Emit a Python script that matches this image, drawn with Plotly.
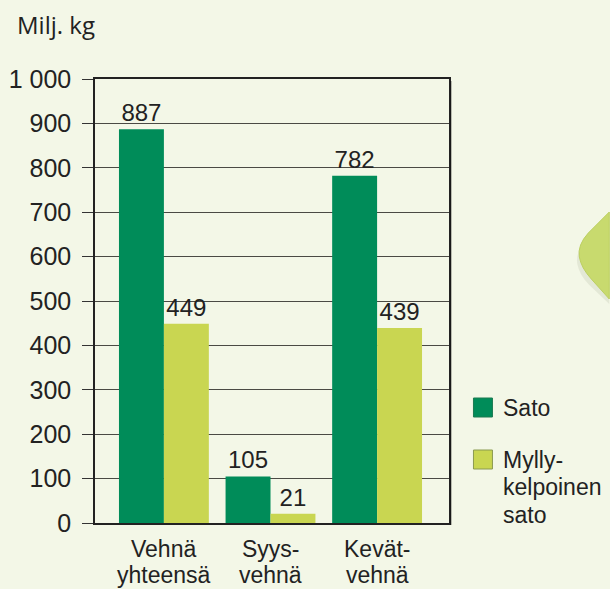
import plotly.graph_objects as go

# ---- data ----
categories = ["Vehnä\nyhteensä", "Syys-\nvehnä", "Kevät-\nvehnä"]
series_names = ["Sato", "Mylly-\nkelpoinen\nsato"]
sato = [887, 105, 782]
myllykelpoinen = [449, 21, 439]
y_tick_vals = [0, 100, 200, 300, 400, 500, 600, 700, 800, 900, 1000]
y_tick_text = ["0", "100", "200", "300", "400", "500", "600", "700", "800", "900", "1 000"]
y_title = "Milj. kg"

# ---- style ----
W, H = 610, 589
L, R, T, B = 95, 449.5, 79, 523
BG = "#f3f7e7"
DARK = "#008c59"
LIGHT = "#c9d651"
NUMFONT = "Liberation Sans, Arial, sans-serif"
SANS = "Liberation Sans, Arial, sans-serif"
TXT = "#222222"

def px(xp):
    return (xp - L) / (R - L)

def py(yp):
    return (B - yp) / (B - T)

x_idx = list(range(len(categories)))

fig = go.Figure()
fig.add_trace(go.Bar(x=x_idx, y=sato, name=series_names[0], marker=dict(color=DARK, line=dict(width=0)),
                     text=[str(v) for v in sato], textposition="outside", cliponaxis=False,
                     textfont=dict(family=NUMFONT, size=24, color=TXT), showlegend=False))
fig.add_trace(go.Bar(x=x_idx, y=myllykelpoinen, name=series_names[1], marker=dict(color=LIGHT, line=dict(width=0)),
                     text=[str(v) for v in myllykelpoinen], textposition="outside", cliponaxis=False,
                     textfont=dict(family=NUMFONT, size=24, color=TXT), showlegend=False))

shapes = []
# decorative rounded shape at right edge (shadow + body)
shadow = (f"M {px(610)},{py(217)} L {px(587)},{py(240)} Q {px(576)},{py(252)} {px(578)},{py(264)} "
          f"Q {px(580)},{py(275)} {px(590)},{py(285)} L {px(610)},{py(304)} Z")
body = (f"M {px(610)},{py(212)} L {px(589)},{py(233)} Q {px(578)},{py(245)} {px(580)},{py(257)} "
        f"Q {px(582)},{py(268)} {px(592)},{py(279)} L {px(610)},{py(299)} Z")
shapes.append(dict(type="path", xref="paper", yref="paper", path=shadow,
                   fillcolor="rgba(120,130,100,0.13)", line=dict(width=0), layer="below"))
shapes.append(dict(type="path", xref="paper", yref="paper", path=body,
                   fillcolor="#c8da6e", line=dict(color="#bccf62", width=1), layer="below"))
# shadow of right border
shapes.append(dict(type="line", xref="paper", yref="paper", x0=px(451.5), x1=px(451.5), y0=py(81), y1=py(525),
                   line=dict(color="rgba(0,0,0,0.25)", width=2)))

# manual legend
legend_sq = [(398, DARK, "#1a7a50"), (450, LIGHT, "#8a9a50")]
annotations = []
for (ytop, col, edge), name in zip(legend_sq, series_names):
    shapes.append(dict(type="rect", xref="paper", yref="paper", x0=px(474), x1=px(493), y0=py(ytop + 19), y1=py(ytop),
                       fillcolor=col, line=dict(color=edge, width=1)))
    for i, line in enumerate(name.split("\n")):
        annotations.append(dict(xref="paper", yref="paper", x=px(502), y=py(ytop + 9.5 + i * 27.5), text=line,
                                showarrow=False, xanchor="left", yanchor="middle",
                                font=dict(family=SANS, size=23, color=TXT)))

# category labels (two lines each)
for i, c in enumerate(categories):
    for j, line in enumerate(c.split("\n")):
        annotations.append(dict(xref="x", yref="paper", x=i, y=py(549 + j * 25.5), text=line,
                                showarrow=False, xanchor="center", yanchor="middle",
                                font=dict(family=SANS, size=23, color=TXT)))

# y unit title
annotations.append(dict(xref="paper", yref="paper", x=px(15), y=py(25), text=y_title, showarrow=False,
                        xanchor="left", yanchor="middle", font=dict(family="Open Sans, Noto Sans, sans-serif", size=24, color=TXT)))

fig.update_layout(
    width=W, height=H,
    margin=dict(l=L, r=W - R, t=T, b=H - B, pad=0, autoexpand=False),
    paper_bgcolor=BG, plot_bgcolor=BG,
    barmode="group", bargap=0.157, bargroupgap=0,
    shapes=shapes, annotations=annotations,
    showlegend=False,
)
fig.update_xaxes(range=[-0.6464, 2.6745], showticklabels=False, ticks="", automargin=False,
                 showline=True, linecolor="#222", linewidth=1.5, mirror=True,
                 showgrid=False, zeroline=False, fixedrange=True)
fig.update_yaxes(range=[0, 1000], tickvals=y_tick_vals, ticktext=y_tick_text, automargin=False,
                 ticks="outside", ticklen=11, tickcolor="#333", tickwidth=1.2,
                 tickfont=dict(family=NUMFONT, size=25, color=TXT), ticklabelstandoff=6,
                 showline=True, linecolor="#222", linewidth=1.5, mirror=True,
                 showgrid=True, gridcolor="#4a4a44", gridwidth=1.2, zeroline=False)

fig.write_html("out.html", config={"displayModeBar": False},
               post_script="document.body.style.margin='0';document.body.style.background='" + BG + "';")
